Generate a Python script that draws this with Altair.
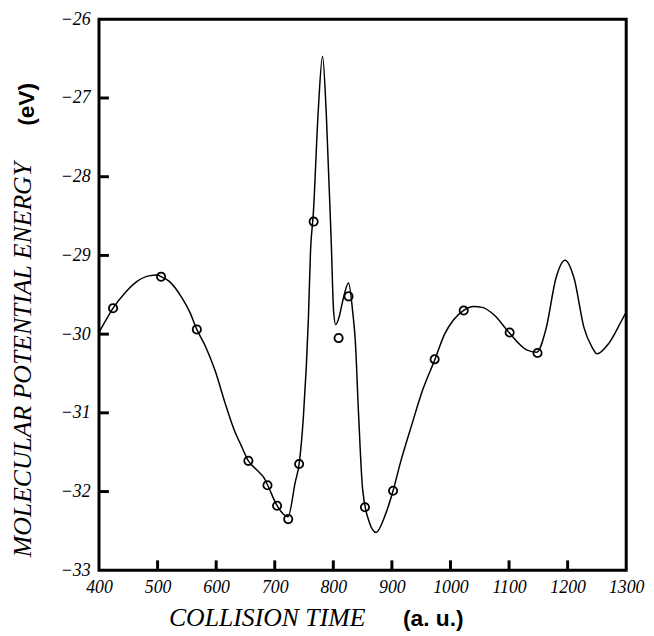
import altair as alt
import pandas as pd

# Fitted curve
curve_t = [400, 412, 424, 445, 465, 485, 500, 506, 520, 540, 555, 567, 582, 598, 615, 631,
           643, 655, 670, 682, 688, 704, 722.7, 735, 741.6, 749, 757.5, 761, 766, 774,
           781.6, 788, 796.6, 800.5, 804, 810, 816, 826, 833, 837.5, 843, 850, 861, 873,
           889, 902, 915, 934, 952, 973, 990, 1005, 1022, 1040, 1054, 1075, 1100, 1130,
           1147, 1163.5, 1180, 1195.5, 1211, 1228, 1242, 1250, 1270, 1292, 1300]
curve_e = [-29.98, -29.82, -29.67, -29.47, -29.33, -29.26, -29.25, -29.27, -29.33, -29.52,
           -29.72, -29.94, -30.16, -30.46, -30.87, -31.22, -31.42, -31.61, -31.73, -31.83,
           -31.92, -32.18, -32.32, -31.88, -31.65, -31.04, -29.79, -28.96, -28.45, -27.2,
           -26.47, -27.2, -28.87, -29.71, -29.88, -29.78, -29.58, -29.35, -29.71, -30.08,
           -31.0, -31.97, -32.38, -32.52, -32.29, -31.99, -31.62, -31.15, -30.72, -30.33,
           -30.0, -29.82, -29.70, -29.65, -29.66, -29.76, -29.98, -30.2, -30.23, -29.92,
           -29.29, -29.06, -29.29, -29.92, -30.17, -30.25, -30.12, -29.83, -29.72]

# Open-circle data points
pts_t = [424, 506, 567, 655, 687.6, 704, 723, 741.6, 766.4, 809, 826, 854, 902, 973,
         1022.6, 1101, 1148.6]
pts_e = [-29.67, -29.27, -29.94, -31.61, -31.92, -32.18, -32.35, -31.65, -28.57, -30.05,
         -29.52, -32.2, -31.99, -30.32, -29.70, -29.98, -30.24]

x_ticks = [400, 500, 600, 700, 800, 900, 1000, 1100, 1200, 1300]
y_ticks = [-33, -32, -31, -30, -29, -28, -27, -26]
x_inner_ticks = [500, 600, 700, 800, 900, 1000, 1100, 1200]
y_inner_ticks = [-32, -31, -30, -29, -28, -27]

W, H = 533, 557
SERIF = "Liberation Serif"

curve_df = pd.DataFrame({"t": curve_t, "e": curve_e})
pts_df = pd.DataFrame({"t": pts_t, "e": pts_e})

xscale = alt.Scale(domain=[400, 1300], nice=False, zero=False)
yscale = alt.Scale(domain=[-33, -26], nice=False, zero=False)

xaxis = alt.Axis(values=x_ticks, title=None, grid=False, ticks=False, domain=False, format="d",
                 labelFont=SERIF, labelFontStyle="italic", labelFontSize=18,
                 labelColor="black", labelPadding=8, labelFlush=False)
yaxis = alt.Axis(values=y_ticks, title=None, grid=False, ticks=False, domain=False, format="d",
                 labelFont=SERIF, labelFontStyle="italic", labelFontSize=18,
                 labelColor="black", labelPadding=9, labelFlush=False)

line = alt.Chart(curve_df).mark_line(interpolate="monotone", color="black", strokeWidth=1.5).encode(
    x=alt.X("t:Q", scale=xscale, axis=xaxis),
    y=alt.Y("e:Q", scale=yscale, axis=yaxis),
)

points = alt.Chart(pts_df).mark_point(shape="circle", filled=False, color="black",
                                      size=70, strokeWidth=1.8, opacity=1).encode(
    x=alt.X("t:Q", scale=xscale),
    y=alt.Y("e:Q", scale=yscale),
)

xt = alt.Chart(pd.DataFrame({"t": x_inner_ticks})).mark_rule(color="black", strokeWidth=3).encode(
    x=alt.X("t:Q", scale=xscale),
    y=alt.value(H),
    y2=alt.value(H - 10),
)
yt = alt.Chart(pd.DataFrame({"e": y_inner_ticks})).mark_rule(color="black", strokeWidth=3).encode(
    y=alt.Y("e:Q", scale=yscale),
    x=alt.value(0),
    x2=alt.value(10),
)

def label(text, x, y, font, size, style="normal", weight="normal", angle=0):
    return alt.Chart(pd.DataFrame({"s": [text]})).mark_text(
        font=font, fontSize=size, fontStyle=style, fontWeight=weight, angle=angle,
        align="center", baseline="middle", color="black"
    ).encode(text="s:N", x=alt.value(x), y=alt.value(y))

ytitle = label("MOLECULAR POTENTIAL ENERGY", -77, 344, SERIF, 26, style="italic", angle=270)
yunit = label("(eV)", -73, 86, "Liberation Sans", 23, weight="bold", angle=270)
xtitle = label("COLLISION TIME", 170, 605, SERIF, 26, style="italic")
xunit = label("(a. u.)", 338, 606, "Liberation Sans", 23, weight="bold")

chart = alt.layer(line, points, xt, yt, ytitle, yunit, xtitle, xunit).properties(
    width=W, height=H,
    background="white",
    autosize=alt.AutoSizeParams(type="none"),
    padding={"left": 92, "top": 8, "right": 20, "bottom": 60},
).configure_view(stroke="black", strokeWidth=3)

chart.save("out.html", embed_options={"renderer": "svg", "actions": False})
